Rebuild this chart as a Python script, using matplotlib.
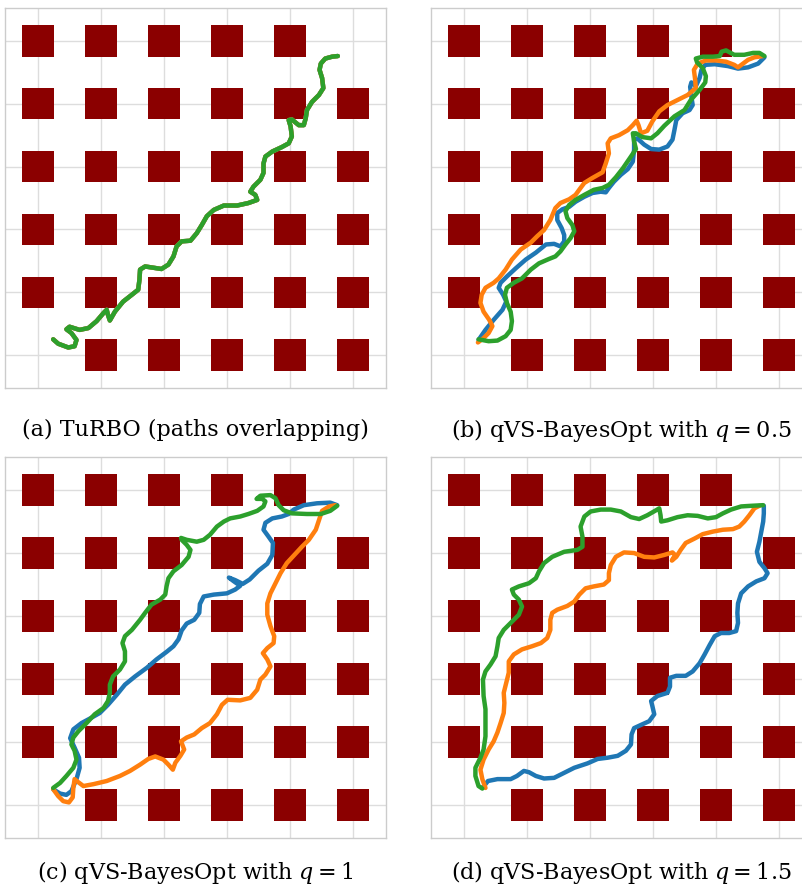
import matplotlib
matplotlib.use("Agg")
import matplotlib.pyplot as plt
from matplotlib.patches import Rectangle

# ---------------- data ----------------
grid_ticks = [0, 1, 2, 3, 4, 5]
# obstacle centres (rows listed from y=5 down to y=0)
obs_x = ([0, 1, 2, 3, 4] + [0, 1, 2, 3, 4, 5] * 4 + [1, 2, 3, 4, 5])
obs_y = ([5] * 5 + [4] * 6 + [3] * 6 + [2] * 6 + [1] * 6 + [0] * 5)
obs_size = 0.5

captions = ["(a) TuRBO (paths overlapping)",
            "(b) qVS-BayesOpt with $q = 0.5$",
            "(c) qVS-BayesOpt with $q = 1$",
            "(d) qVS-BayesOpt with $q = 1.5$"]

# (a) TuRBO - all three paths overlap
a_x = [0.24, 0.32, 0.48, 0.58, 0.61, 0.53, 0.45, 0.50, 0.66, 0.80, 0.93, 1.04, 1.09, 1.11, 1.14,
       1.22, 1.35, 1.49, 1.59, 1.61, 1.62, 1.70, 1.83, 1.96, 2.07, 2.15, 2.20, 2.28, 2.42, 2.52,
       2.60, 2.68, 2.79, 2.95, 3.16, 3.34, 3.48, 3.45, 3.37, 3.42, 3.53, 3.58, 3.58, 3.61, 3.72,
       3.87, 3.98, 4.03, 4.01, 3.98, 4.03, 4.14, 4.22, 4.25, 4.27, 4.35, 4.46, 4.53, 4.51, 4.47,
       4.49, 4.56, 4.67, 4.76]
a_y = [0.25, 0.18, 0.12, 0.14, 0.24, 0.35, 0.41, 0.45, 0.40, 0.43, 0.54, 0.67, 0.72, 0.64, 0.55,
       0.69, 0.85, 0.96, 1.04, 1.20, 1.36, 1.41, 1.39, 1.37, 1.44, 1.57, 1.73, 1.81, 1.82, 1.94,
       2.07, 2.21, 2.31, 2.38, 2.38, 2.42, 2.47, 2.55, 2.60, 2.68, 2.79, 2.90, 3.05, 3.16, 3.24,
       3.31, 3.37, 3.48, 3.64, 3.74, 3.75, 3.66, 3.66, 3.77, 3.90, 4.03, 4.14, 4.25, 4.41, 4.54,
       4.64, 4.72, 4.75, 4.76]

# (b) q = 0.5
b_blue_x = [0.23, 0.34, 0.47, 0.61, 0.67, 0.62, 0.55, 0.58, 0.68, 0.82, 0.98, 1.14, 1.30, 1.43,
            1.53, 1.59, 1.59, 1.55, 1.48, 1.48, 1.56, 1.67, 1.77, 1.91, 2.04, 2.17, 2.25, 2.30,
            2.38, 2.49, 2.60, 2.68, 2.70, 2.70, 2.75, 2.86, 2.97, 3.10, 3.23, 3.31, 3.34, 3.37,
            3.47, 3.58, 3.63, 3.61, 3.59, 3.61, 3.68, 3.74, 3.77, 3.83, 3.98, 4.19, 4.35, 4.51,
            4.67, 4.77]
b_blue_y = [0.24, 0.40, 0.56, 0.72, 0.85, 0.96, 1.07, 1.15, 1.25, 1.38, 1.52, 1.63, 1.76, 1.77,
            1.73, 1.81, 1.91, 2.02, 2.15, 2.26, 2.32, 2.36, 2.44, 2.52, 2.58, 2.60, 2.59, 2.66,
            2.76, 2.87, 2.96, 3.08, 3.27, 3.43, 3.45, 3.35, 3.28, 3.27, 3.32, 3.43, 3.58, 3.74,
            3.85, 3.90, 3.98, 4.11, 4.27, 4.34, 4.28, 4.41, 4.54, 4.62, 4.63, 4.60, 4.56, 4.58,
            4.64, 4.74]
b_orange_x = [0.22, 0.31, 0.39, 0.45, 0.40, 0.31, 0.26, 0.28, 0.34, 0.47, 0.55, 0.66, 0.76, 0.90,
              1.06, 1.16, 1.27, 1.37, 1.45, 1.53, 1.67, 1.77, 1.85, 1.91, 2.04, 2.20, 2.25, 2.30,
              2.28, 2.33, 2.46, 2.60, 2.68, 2.74, 2.77, 2.81, 2.91, 2.99, 3.10, 3.23, 3.39, 3.55,
              3.68, 3.67, 3.65, 3.71, 3.84, 4.00, 4.16, 4.29, 4.35, 4.43, 4.51, 4.61, 4.75]
b_orange_y = [0.20, 0.27, 0.35, 0.46, 0.56, 0.69, 0.83, 0.96, 1.07, 1.15, 1.22, 1.36, 1.52, 1.68,
              1.79, 1.89, 1.99, 2.15, 2.34, 2.42, 2.48, 2.55, 2.66, 2.74, 2.82, 2.91, 3.05, 3.21,
              3.37, 3.45, 3.50, 3.58, 3.66, 3.73, 3.66, 3.53, 3.57, 3.72, 3.88, 3.98, 4.06, 4.14,
              4.25, 4.38, 4.54, 4.64, 4.69, 4.69, 4.67, 4.62, 4.58, 4.64, 4.70, 4.74, 4.76]
b_green_x = [0.23, 0.39, 0.53, 0.66, 0.74, 0.76, 0.74, 0.68, 0.65, 0.68, 0.79, 0.92, 1.06, 1.19,
             1.35, 1.45, 1.53, 1.61, 1.69, 1.75, 1.72, 1.64, 1.61, 1.67, 1.77, 1.91, 2.06, 2.20,
             2.30, 2.41, 2.52, 2.65, 2.73, 2.70, 2.68, 2.73, 2.83, 2.97, 3.07, 3.18, 3.34, 3.50,
             3.60, 3.74, 3.83, 3.84, 3.79, 3.70, 3.68, 3.79, 3.95, 4.06, 4.09, 4.16, 4.29, 4.45,
             4.59, 4.69, 4.77]
b_green_y = [0.25, 0.22, 0.23, 0.30, 0.40, 0.54, 0.69, 0.83, 0.96, 1.07, 1.15, 1.22, 1.36, 1.46,
             1.53, 1.57, 1.65, 1.76, 1.86, 1.97, 2.07, 2.18, 2.29, 2.39, 2.47, 2.55, 2.63, 2.66,
             2.71, 2.83, 2.97, 3.16, 3.28, 3.40, 3.53, 3.53, 3.47, 3.45, 3.53, 3.65, 3.80, 3.90,
             4.06, 4.22, 4.34, 4.44, 4.57, 4.66, 4.72, 4.75, 4.75, 4.76, 4.83, 4.85, 4.78, 4.78,
             4.81, 4.81, 4.76]

# (c) q = 1
c_blue_x = [0.24, 0.35, 0.45, 0.53, 0.61, 0.66, 0.65, 0.58, 0.51, 0.56, 0.69, 0.82, 0.98, 1.11,
            1.25, 1.38, 1.54, 1.73, 1.88, 2.04, 2.15, 2.23, 2.28, 2.36, 2.48, 2.56, 2.57, 2.63,
            2.79, 3.00, 3.13, 3.21, 3.11, 3.03, 3.13, 3.25, 3.36, 3.50, 3.64, 3.72, 3.73, 3.66,
            3.58, 3.61, 3.72, 3.87, 3.98, 4.06, 4.22, 4.43, 4.64, 4.75]
c_blue_y = [0.25, 0.18, 0.16, 0.22, 0.41, 0.59, 0.75, 0.91, 1.06, 1.20, 1.30, 1.37, 1.46, 1.59,
            1.75, 1.91, 2.04, 2.18, 2.31, 2.43, 2.52, 2.63, 2.77, 2.88, 2.94, 3.05, 3.19, 3.31,
            3.34, 3.36, 3.42, 3.48, 3.55, 3.61, 3.57, 3.51, 3.58, 3.72, 3.83, 3.97, 4.16, 4.26,
            4.37, 4.48, 4.55, 4.58, 4.62, 4.69, 4.76, 4.79, 4.80, 4.76]
c_orange_x = [0.24, 0.32, 0.40, 0.49, 0.55, 0.56, 0.58, 0.64, 0.72, 0.88, 1.09, 1.30, 1.46, 1.62,
              1.75, 1.86, 1.99, 2.07, 2.14, 2.18, 2.26, 2.32, 2.27, 2.36, 2.48, 2.60, 2.73, 2.84,
              2.92, 3.01, 3.21, 3.37, 3.48, 3.53, 3.61, 3.69, 3.64, 3.57, 3.64, 3.74, 3.75, 3.69,
              3.64, 3.64, 3.69, 3.77, 3.85, 3.95, 4.07, 4.19, 4.30, 4.41, 4.46, 4.51, 4.62, 4.72]
c_orange_y = [0.25, 0.14, 0.06, 0.04, 0.12, 0.27, 0.41, 0.36, 0.30, 0.33, 0.38, 0.46, 0.54, 0.64,
              0.73, 0.77, 0.72, 0.64, 0.56, 0.67, 0.78, 0.88, 1.01, 1.07, 1.12, 1.22, 1.30, 1.44,
              1.59, 1.67, 1.66, 1.70, 1.83, 1.99, 2.07, 2.20, 2.31, 2.41, 2.49, 2.57, 2.68, 2.84,
              3.02, 3.20, 3.36, 3.52, 3.68, 3.84, 3.97, 4.10, 4.21, 4.37, 4.52, 4.67, 4.74, 4.76]
c_green_x = [0.24, 0.35, 0.45, 0.56, 0.61, 0.58, 0.53, 0.56, 0.64, 0.77, 0.90, 1.04, 1.11, 1.14,
             1.14, 1.19, 1.30, 1.38, 1.38, 1.34, 1.38, 1.49, 1.62, 1.70, 1.80, 1.94, 2.02, 2.04,
             2.07, 2.15, 2.28, 2.39, 2.42, 2.36, 2.28, 2.27, 2.36, 2.52, 2.63, 2.73, 2.84, 2.95,
             3.05, 3.21, 3.34, 3.48, 3.58, 3.61, 3.56, 3.47, 3.53, 3.69, 3.77, 3.82, 3.90, 4.03,
             4.27, 4.49, 4.64, 4.75]
c_green_y = [0.27, 0.35, 0.46, 0.59, 0.72, 0.86, 0.96, 1.07, 1.17, 1.30, 1.44, 1.54, 1.65, 1.78,
             1.91, 2.04, 2.15, 2.28, 2.44, 2.57, 2.68, 2.78, 2.94, 3.05, 3.18, 3.26, 3.34, 3.47,
             3.60, 3.71, 3.81, 3.94, 4.05, 4.13, 4.21, 4.24, 4.21, 4.18, 4.21, 4.29, 4.42, 4.50,
             4.55, 4.58, 4.62, 4.67, 4.74, 4.82, 4.86, 4.86, 4.91, 4.92, 4.87, 4.76, 4.68, 4.63,
             4.62, 4.62, 4.67, 4.75]

# (d) q = 1.5
d_blue_x = [0.29, 0.38, 0.53, 0.74, 0.84, 0.95, 1.03, 1.14, 1.27, 1.43, 1.59, 1.75, 1.96, 2.12,
            2.28, 2.44, 2.57, 2.65, 2.66, 2.70, 2.83, 2.94, 3.02, 2.99, 2.97, 3.07, 3.23, 3.27,
            3.27, 3.37, 3.52, 3.63, 3.74, 3.82, 3.90, 3.98, 4.08, 4.21, 4.32, 4.35, 4.34, 4.35,
            4.40, 4.51, 4.64, 4.77, 4.82, 4.77, 4.69, 4.65, 4.69, 4.72, 4.75, 4.76, 4.76]
d_blue_y = [0.27, 0.38, 0.41, 0.41, 0.46, 0.54, 0.52, 0.46, 0.42, 0.43, 0.51, 0.59, 0.66, 0.73,
            0.75, 0.78, 0.86, 0.96, 1.12, 1.22, 1.28, 1.33, 1.44, 1.57, 1.65, 1.73, 1.78, 1.88,
            2.02, 2.05, 2.05, 2.12, 2.25, 2.39, 2.54, 2.68, 2.73, 2.73, 2.76, 2.89, 3.05, 3.20,
            3.36, 3.47, 3.55, 3.60, 3.68, 3.76, 3.86, 4.02, 4.18, 4.34, 4.50, 4.63, 4.75]
d_orange_x = [0.34, 0.29, 0.26, 0.31, 0.39, 0.47, 0.53, 0.58, 0.63, 0.64, 0.63, 0.67, 0.71, 0.71,
              0.79, 0.92, 1.08, 1.22, 1.32, 1.37, 1.37, 1.40, 1.48, 1.64, 1.75, 1.83, 1.93, 2.06,
              2.22, 2.30, 2.30, 2.33, 2.41, 2.54, 2.70, 2.86, 3.02, 3.18, 3.31, 3.35, 3.30, 3.37,
              3.44, 3.52, 3.66, 3.79, 3.95, 4.11, 4.27, 4.37, 4.45, 4.53, 4.61, 4.69]
d_orange_y = [0.27, 0.41, 0.56, 0.72, 0.88, 1.01, 1.15, 1.30, 1.46, 1.62, 1.78, 1.94, 2.10, 2.28,
              2.39, 2.47, 2.52, 2.57, 2.65, 2.78, 2.94, 3.05, 3.10, 3.16, 3.23, 3.34, 3.44, 3.47,
              3.50, 3.57, 3.68, 3.81, 3.94, 4.01, 4.00, 3.94, 3.93, 3.97, 4.01, 3.97, 3.88, 3.94,
              4.05, 4.16, 4.23, 4.30, 4.34, 4.37, 4.38, 4.42, 4.50, 4.60, 4.71, 4.75]
d_green_x = [0.29, 0.23, 0.18, 0.18, 0.26, 0.31, 0.34, 0.34, 0.34, 0.31, 0.30, 0.34, 0.42, 0.50,
             0.53, 0.55, 0.63, 0.76, 0.87, 0.92, 0.87, 0.79, 0.76, 0.87, 1.03, 1.14, 1.19, 1.27,
             1.40, 1.59, 1.80, 1.88, 1.88, 1.85, 1.91, 2.01, 2.17, 2.33, 2.49, 2.65, 2.78, 2.91,
             3.05, 3.10, 3.12, 3.13, 3.23, 3.39, 3.55, 3.71, 3.87, 4.00, 4.11, 4.24, 4.40, 4.56,
             4.75]
d_green_y = [0.26, 0.30, 0.46, 0.59, 0.75, 0.88, 1.09, 1.30, 1.52, 1.73, 1.99, 2.12, 2.23, 2.36,
             2.52, 2.65, 2.78, 2.91, 3.02, 3.15, 3.26, 3.34, 3.42, 3.47, 3.52, 3.60, 3.71, 3.84,
             3.94, 4.02, 4.05, 4.10, 4.26, 4.42, 4.58, 4.66, 4.69, 4.69, 4.66, 4.57, 4.54, 4.60,
             4.68, 4.71, 4.60, 4.50, 4.52, 4.57, 4.60, 4.59, 4.55, 4.57, 4.63, 4.69, 4.74, 4.75,
             4.76]

panels = [
    [(a_x, a_y), (a_x, a_y), (a_x, a_y)],
    [(b_blue_x, b_blue_y), (b_orange_x, b_orange_y), (b_green_x, b_green_y)],
    [(c_blue_x, c_blue_y), (c_orange_x, c_orange_y), (c_green_x, c_green_y)],
    [(d_blue_x, d_blue_y), (d_orange_x, d_orange_y), (d_green_x, d_green_y)],
]
colors = ["#1f77b4", "#ff7f0e", "#2ca02c"]

# ---------------- figure ----------------
W, H = 803, 890
fig = plt.figure(figsize=(W / 100, H / 100), dpi=100)
plt.rcParams["mathtext.fontset"] = "dejavuserif"

# axes boxes in pixels: left, top, width, height
boxes = [(5, 8, 381, 380), (431, 8, 381, 380), (5, 457, 381, 381), (431, 457, 381, 381)]
cap_y = [430, 430, 872, 872]

for i, (l, t, w, h) in enumerate(boxes):
    ax = fig.add_axes([l / W, 1 - (t + h) / H, w / W, h / H])
    ax.set_xlim(-0.525, 5.525)
    ax.set_ylim(-0.525, 5.525)
    ax.set_xticks(grid_ticks)
    ax.set_yticks(grid_ticks)
    ax.tick_params(length=0, labelbottom=False, labelleft=False)
    ax.grid(True, color="#dddddd", linewidth=1.0, zorder=0)
    ax.set_axisbelow(True)
    for s in ax.spines.values():
        s.set_color("#cccccc")
        s.set_linewidth(1.0)
    for ox, oy in zip(obs_x, obs_y):
        ax.add_patch(Rectangle((ox - obs_size / 2, oy - obs_size / 2), obs_size, obs_size,
                               facecolor="#8b0000", edgecolor="none", zorder=2))
    for (px, py), c in zip(panels[i], colors):
        ax.plot(px, py, color=c, linewidth=3.2, solid_joinstyle="round",
                solid_capstyle="round", zorder=3)
    fig.text((l + w / 2) / W, 1 - cap_y[i] / H, captions[i], ha="center", va="center",
             fontsize=16, family="DejaVu Serif")

fig.savefig("out.png", dpi=100)
